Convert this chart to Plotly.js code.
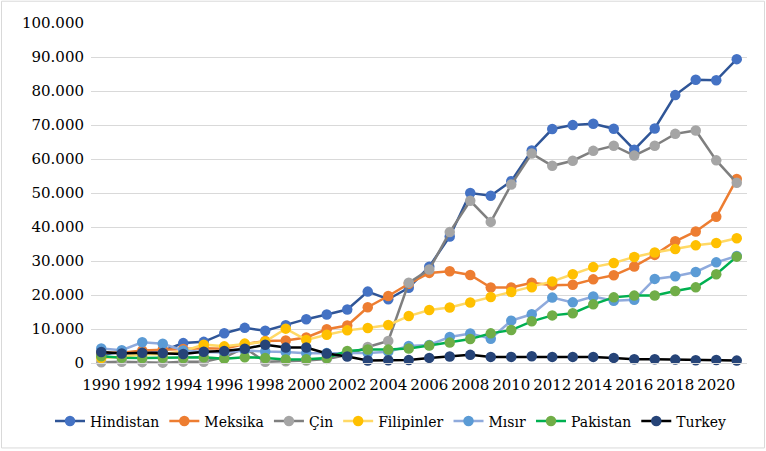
<!DOCTYPE html>
<html>
<head>
<meta charset="utf-8">
<script src="https://cdn.plot.ly/plotly-3.0.1.min.js"></script>
<style>html,body{margin:0;padding:0;background:#fff;}#chart{width:766px;height:451px;}</style>
</head>
<body>
<div id="chart"></div>
<script>
const years = [1990,1991,1992,1993,1994,1995,1996,1997,1998,1999,2000,2001,2002,2003,2004,2005,2006,2007,2008,2009,2010,2011,2012,2013,2014,2015,2016,2017,2018,2019,2020,2021];

const hindistan  = [2384,3289,2897,3523,5857,6223,8766,10331,9479,11124,12890,14273,15736,20999,18750,22125,28334,37217,49977,49204,53480,62499,68819,69970,70389,68910,62744,68967,78790,83332,83149,89375];
const meksika    = [3098,3030,3700,3979,4122,4368,4224,5545,6501,6649,7525,9920,11029,16400,19700,23300,26500,27000,25900,22200,22200,23600,22900,23000,24600,25800,28400,31800,35800,38700,43000,54100];
const cin        = [196,356,254,108,395,350,1672,4423,346,492,758,1209,2354,4700,6500,23600,27500,38500,47700,41500,52500,61600,58000,59500,62400,63900,61000,63900,67400,68400,59600,53000];
const filipinler = [1465,1850,2538,2587,3452,5400,4900,5700,6300,10100,6800,8300,9600,10300,11200,13800,15600,16300,17800,19400,20900,22300,24000,26100,28200,29400,31200,32500,33500,34600,35300,36700];
const misir      = [4284,3744,6104,5664,3672,3226,3107,3697,3370,3235,2852,2911,2893,2961,3341,5017,5330,7656,8694,7150,12453,14324,19236,17833,19570,18325,18590,24736,25516,26781,29603,31487];
const pakistan   = [2006,1545,1468,1562,1446,1712,1284,1707,1490,1060,1075,1461,3554,3964,3945,4280,5121,5998,7039,8717,9690,12263,14007,14629,17244,19306,19819,19856,21193,22252,26105,31279];
const turkey     = [3246,2819,3008,2919,2627,3327,3542,4197,5356,4529,4560,2786,1936,729,804,851,1500,1900,2400,1800,1800,2000,1800,1800,1800,1500,1100,1100,1000,800,900,700];

const seriesNames = ["Hindistan","Meksika","Çin","Filipinler","Mısır","Pakistan","Turkey"];
const seriesData = [hindistan, meksika, cin, filipinler, misir, pakistan, turkey];
const lineColors = ["#2F5597","#ED7D31","#7F7F7F","#FFD966","#8FAADC","#00B050","#000000"];
const markerColors = ["#4472C4","#ED7D31","#A5A5A5","#FFC000","#5B9BD5","#70AD47","#264478"];

const traces = seriesNames.map((name, i) => ({
  type: "scatter",
  mode: "lines+markers",
  name: name,
  x: years,
  y: seriesData[i],
  cliponaxis: false,
  line: {color: lineColors[i], width: 2.5},
  marker: {symbol: "circle", size: 10.5, color: markerColors[i], line: {width: 0}}
}));

// plot area in pixels
const W = 766, H = 451;
const L = 91, R = 747, T = 23.3, B = 363.5;
const px = v => (v - L) / (R - L);
const py = v => (B - v) / (B - T);

const font = "DejaVu Serif";

const layout = {
  width: W, height: H,
  margin: {l: L, r: W - R, t: T, b: H - B, pad: 0, autoexpand: false},
  paper_bgcolor: "#ffffff",
  plot_bgcolor: "#ffffff",
  separators: ",.",
  showlegend: true,
  font: {family: font, size: 15, color: "#000000"},
  xaxis: {
    range: [1989.5, 2021.5],
    tickmode: "linear", tick0: 1990, dtick: 2,
    showgrid: false, zeroline: false,
    showline: true, linecolor: "#D9D9D9", linewidth: 1,
    ticks: "", ticklabelstandoff: 8,
    tickfont: {family: font, size: 15, color: "#000"}
  },
  yaxis: {
    range: [0, 100000],
    tickmode: "linear", tick0: 0, dtick: 10000,
    tickformat: ",d",
    showgrid: true, gridcolor: "#D9D9D9", gridwidth: 1,
    zeroline: false, showline: false,
    ticks: "", ticklabelstandoff: 6,
    tickfont: {family: font, size: 15, color: "#000"}
  },
  legend: {
    orientation: "h",
    x: px(50), xanchor: "left",
    y: py(422), yanchor: "middle",
    font: {family: font, size: 14, color: "#000"},
    bgcolor: "rgba(0,0,0,0)"
  },
  shapes: [{
    type: "rect", xref: "paper", yref: "paper",
    x0: px(1.5), x1: px(764.5), y0: py(448.5), y1: py(1.5),
    line: {color: "#D9D9D9", width: 1}, layer: "below"
  }]
};

Plotly.newPlot("chart", traces, layout, {displayModeBar: false, staticPlot: true});
</script>
</body>
</html>
